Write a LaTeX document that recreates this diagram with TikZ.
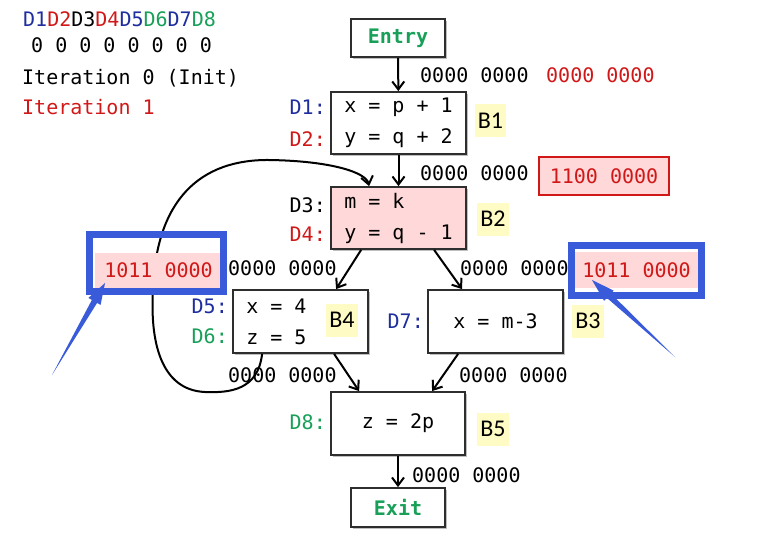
\documentclass[tikz,border=0pt]{standalone}
\usepackage{xcolor}
\usepackage{fontspec}
\setmonofont{DejaVu Sans Mono}
\newfontfamily\tagfamily{Carlito}
\usepackage{tikz}
\usetikzlibrary{arrows.meta,positioning,shadows}
\definecolor{dblue}{HTML}{1F2E9E}
\definecolor{dred}{HTML}{D01818}
\definecolor{dgreen}{HTML}{18A058}
\definecolor{boxline}{HTML}{2E2E2E}
\definecolor{pinkfill}{HTML}{FFD9D9}
\definecolor{callblue}{HTML}{3A5BD9}
\definecolor{hlyellow}{HTML}{FFFBC5}
\newcommand{\codefont}{\ttfamily\fontsize{20}{31}\selectfont}
\newcommand{\tagfont}{\tagfamily\fontsize{24}{28}\selectfont}
\tikzset{
  block/.style={rectangle,draw=boxline,line width=1.8pt,fill=white,
    minimum width=135pt,minimum height=62pt,inner sep=0pt,align=left,font=\codefont,
    drop shadow={shadow xshift=2pt,shadow yshift=-2pt,fill=black,opacity=0.25}},
  term/.style={block,minimum width=94pt,minimum height=38pt,text=dgreen,font=\codefont\bfseries},
  tag/.style={fill=hlyellow,font=\tagfont,inner sep=3pt,minimum height=33pt},
  bits/.style={anchor=west,inner sep=0pt,font=\codefont},
  defn/.style={anchor=east,inner sep=0pt,font=\codefont},
  pinkbits/.style={fill=pinkfill,text=dred,inner sep=0pt,font=\codefont},
  flow/.style={-{Straight Barb[length=8pt,width=12pt]},line width=2pt,draw=black},
  frame/.style={draw=callblue,line width=7pt}
}
\begin{document}
\begin{tikzpicture}[x=1pt,y=-1pt]
\useasboundingbox (0,0) rectangle (781,558);
% legend
\node[bits] (dnames) at (23,19) {\textcolor{dblue}{D1}\textcolor{dred}{D2}D3\textcolor{dred}{D4}\textcolor{dblue}{D5}\textcolor{dgreen}{D6}\textcolor{dblue}{D7}\textcolor{dgreen}{D8}};
\node[bits] (dzeros) at (31,45) {0 0 0 0 0 0 0 0};
\node[bits] (iter0) at (22,78) {Iteration 0 (Init)};
\node[bits,text=dred] (iter1) at (22,107) {Iteration 1};

% blocks
\node[term] (entry) at (398,38) {Entry};
\node[block] (b1) at (398.5,123) {x = p + 1\\y = q + 2};
\node[block,fill=pinkfill] (b2) at (398.5,218) {m = k\\y = q - 1};
\node[block,minimum height=63pt] (b4) at (300.5,321.5) {x = 4\phantom{0000}\\z = 5\phantom{0000}};
\node[block,minimum height=63pt] (b3) at (495.5,321.5) {x = m-3};
\node[block,minimum width=134pt,minimum height=63pt] (b5) at (398,423.5) {z = 2p};
\node[term,minimum height=39pt] (exit) at (398,507.5) {Exit};

% back edge B4 -> B2
\draw[flow] ([xshift=30pt]b4.south west) .. controls (258,390) and (230,393) .. (205,392)
  .. controls (160,390) and (150,340) .. (153,290)
  .. controls (156,200) and (200,159) .. (270,160)
  .. controls (330,161) and (366,172) .. ([xshift=39pt]b2.north west);

% block names
\node[tag] (tb1) at (490.5,120.5) {B1};
\node[tag] (tb2) at (493,219) {B2};
\node[tag] (tb4) at (342,320) {B4};
\node[tag] (tb3) at (588,321) {B3};
\node[tag] (tb5) at (493,429) {B5};

% definitions
\node[defn,text=dblue] (d1) at (326,107.5) {D1:};
\node[defn,text=dred] (d2) at (326,139.5) {D2:};
\node[defn] (d3) at (326,205) {D3:};
\node[defn,text=dred] (d4) at (326,234.5) {D4:};
\node[defn,text=dblue] (d5) at (228,306) {D5:};
\node[defn,text=dgreen] (d6) at (228,336) {D6:};
\node[defn,text=dblue] (d7) at (424,321) {D7:};
\node[defn,text=dgreen] (d8) at (326,422) {D8:};

% edges
\draw[flow] (entry) -- (b1);
\draw[flow] (b1) -- (b2);
\draw[flow] ([xshift=31pt]b2.south west) -- ([xshift=104pt]b4.north west);
\draw[flow] ([xshift=104pt]b2.south west) -- ([xshift=35pt]b3.north west);
\draw[flow] ([xshift=102pt]b4.south west) -- ([xshift=29pt]b5.north west);
\draw[flow] ([xshift=31pt]b3.south west) -- ([xshift=102pt]b5.north west);
\draw[flow] (b5) -- (exit);

% bit vectors
\node[bits] (out0) at (420,75) {0000 0000};
\node[bits,text=dred] (out0new) at (546,75) {0000 0000};
\node[bits] (out1) at (420,173.5) {0000 0000};
\node[pinkbits,draw=dred,line width=1.6pt,minimum width=130pt,minimum height=38pt] (out1new) at (604,176) {1100 0000};
\node[bits] (out2) at (228,268.5) {0000 0000};
\node[pinkbits,minimum width=127pt,minimum height=35pt] (out2new) at (158.5,270.5) {1011 0000};
\node[bits] (in3) at (460,268.5) {0000 0000};
\node[pinkbits,minimum width=123pt,minimum height=36pt] (in3new) at (636.5,270) {1011 0000};
\node[bits] (out4) at (228,375) {0000 0000};
\node[bits] (out3) at (459,375) {0000 0000};
\node[bits] (out5) at (412,475) {0000 0000};

% callouts
\draw[frame] ([shift={(-5.5pt,18.5pt)}]out2new.north west) rectangle ([shift={(1.5pt,-3.5pt)}]out2new.south east);
\draw[frame] ([shift={(-3.5pt,6.5pt)}]in3new.north west) rectangle ([shift={(3.5pt,-7.5pt)}]in3new.south east);
\fill[callblue] (52,375) -- (91.9,299.9) -- (88.4,297.9) -- (105,283) -- (100.6,304.9) -- (97.1,302.9) -- cycle;
\fill[callblue] (675,357) -- (606.9,297.9) -- (604.1,300.8) -- (592,280) -- (613.7,290.6) -- (610.9,293.5) -- cycle;
\end{tikzpicture}
\end{document}
